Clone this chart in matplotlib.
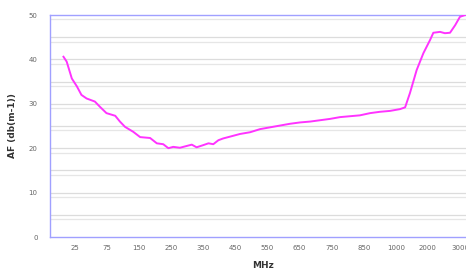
import numpy as np
import matplotlib
matplotlib.use("Agg")
import matplotlib.pyplot as plt

tick_freqs = [25, 75, 150, 250, 350, 450, 550, 650, 750, 850, 1000, 2000, 3000]
tick_labels = [str(t) for t in tick_freqs]

freq_mhz = [7, 12, 20, 28, 35, 43, 56, 64, 74, 94, 105, 117, 136, 153, 184, 205, 225,
            241, 256, 277, 298, 314, 329, 350, 366, 381, 397, 412, 433, 464, 496, 527,
            558, 589, 620, 651, 683, 714, 745, 776, 807, 838, 880, 926, 973, 1130, 1290,
            1440, 1650, 1860, 2070, 2170, 2380, 2530, 2690, 2850, 3000, 3160]
af_db = [40.6, 39.5, 35.7, 33.9, 32.0, 31.2, 30.5, 29.3, 27.9, 27.3, 26.0, 24.8, 23.7,
         22.5, 22.3, 21.1, 20.9, 20.0, 20.3, 20.1, 20.5, 20.8, 20.2, 20.7, 21.1, 20.9,
         21.8, 22.2, 22.6, 23.2, 23.6, 24.3, 24.7, 25.1, 25.5, 25.8, 26.0, 26.3, 26.6,
         27.0, 27.2, 27.4, 27.9, 28.2, 28.4, 28.8, 29.2, 32.4, 37.6, 41.4, 44.4, 46.0,
         46.2, 45.9, 46.0, 47.7, 49.6, 50.0]

def to_pos(f):
    xp = [-25] + tick_freqs + [4000]
    fp = [-1] + list(range(len(tick_freqs))) + [len(tick_freqs)]
    return np.interp(f, xp, fp)

fig = plt.figure(figsize=(4.66, 2.71), dpi=100)
ax = fig.add_axes([50/466, 34/271, 426/466, 222/271])

# grid (pairs of light lines)
for v in range(5, 50, 5):
    ax.axhline(v, color='#dcdcdc', lw=0.9, zorder=0)
    ax.axhline(v - 1, color='#e6e6e6', lw=0.9, zorder=0)
ax.axhline(49, color='#e6e6e6', lw=0.9, zorder=0)

ax.plot(to_pos(np.array(freq_mhz)), af_db, color='#ff33ff', lw=1.4, zorder=3)

ax.set_xlim(-0.78, 12.5)
ax.set_ylim(0, 50)
ax.set_xticks(range(len(tick_freqs)))
ax.set_xticklabels(tick_labels)
ax.set_yticks(range(0, 51, 10))
ax.tick_params(length=0, labelsize=5, labelcolor='#666666', pad=6)
ax.tick_params(axis='y', pad=9)

for s in ['left', 'bottom', 'top']:
    ax.spines[s].set_color('#a0a0ff')
    ax.spines[s].set_linewidth(1.0)
ax.spines['right'].set_visible(False)

ax.set_ylabel('AF (db(m-1))', fontsize=6.5, fontweight='bold', color='#333333', labelpad=8)
ax.set_xlabel('MHz', fontsize=6.5, fontweight='bold', color='#333333', labelpad=7)

fig.savefig('out.png', dpi=100)
